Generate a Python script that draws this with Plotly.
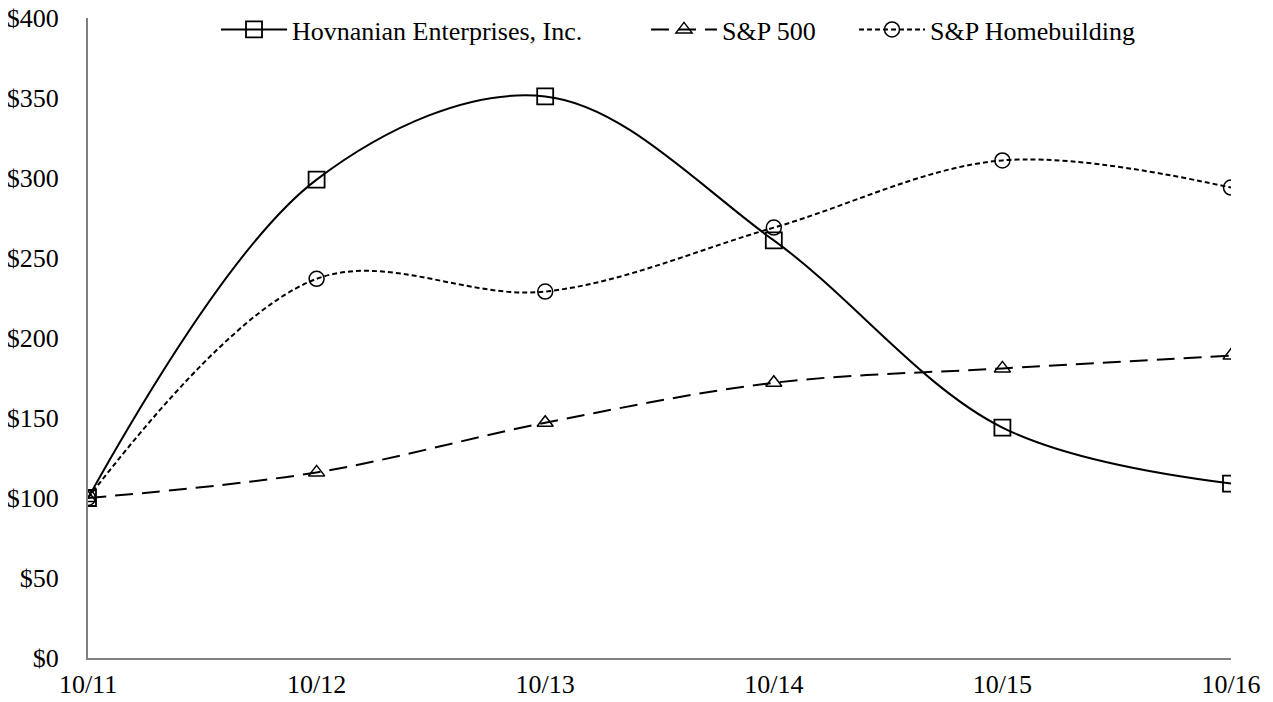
import plotly.graph_objects as go

categories = ["10/11", "10/12", "10/13", "10/14", "10/15", "10/16"]
hovnanian = [100, 299, 351, 261, 144, 109]
sp500 = [100, 116, 147, 172, 181, 189]
homebuilding = [100, 237, 229, 269, 311, 294]
y_ticks = [0, 50, 100, 150, 200, 250, 300, 350, 400]
y_labels = ["$" + str(v) for v in y_ticks]

fig = go.Figure()
fig.add_trace(go.Scatter(
    x=categories, y=hovnanian, name="Hovnanian Enterprises, Inc.", legendwidth=349,
    mode="lines+markers", line=dict(color="black", width=2, shape="spline", smoothing=1.0),
    marker=dict(symbol="square-open", size=16, color="black", line=dict(width=1.8))))
fig.add_trace(go.Scatter(
    x=categories, y=sp500, name="S&P 500", legendwidth=127,
    mode="lines+markers", line=dict(color="black", width=2, dash="18px,9px", shape="spline", smoothing=1.0),
    marker=dict(symbol="triangle-up-open", size=14, color="black", line=dict(width=1.5))))
fig.add_trace(go.Scatter(
    x=categories, y=homebuilding, name="S&P Homebuilding",
    mode="lines+markers", line=dict(color="black", width=2, dash="5px,3px", shape="spline", smoothing=1.0),
    marker=dict(symbol="circle-open", size=15, color="black", line=dict(width=1.5))))

fig.update_layout(
    width=1265, height=694,
    margin=dict(l=80, r=42, t=10, b=44, autoexpand=False),
    paper_bgcolor="white", plot_bgcolor="white",
    font=dict(family="Liberation Serif", size=26, color="black"),
    showlegend=True,
    legend=dict(orientation="h", x=0.112, xanchor="left", yref="container", y=0.969, yanchor="middle",
                font=dict(size=26), bgcolor="rgba(0,0,0,0)", itemwidth=66),
    xaxis=dict(type="category", range=[0, 5], showgrid=False, showline=True,
               linecolor="#808080", linewidth=2, ticks="", zeroline=False,
               automargin=False, ticklabelstandoff=2, ticklabeloverflow="allow"),
    yaxis=dict(range=[0, 400], tickvals=y_ticks, ticktext=y_labels, showgrid=False,
               showline=True, linecolor="#808080", linewidth=2, ticks="", zeroline=False,
               automargin=False, ticklabelstandoff=22, ticklabeloverflow="allow"),
)
fig.write_html("out.html")
